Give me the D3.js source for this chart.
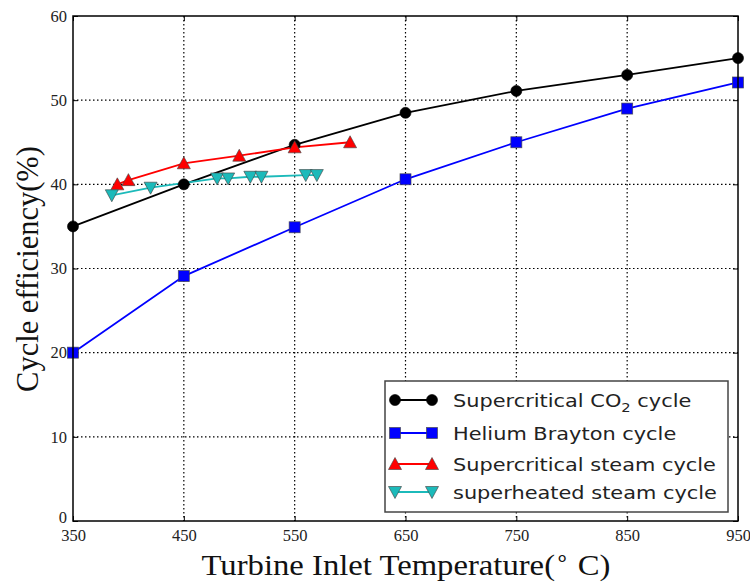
<!DOCTYPE html>
<html>
<head>
<meta charset="utf-8">
<script src="https://cdn.jsdelivr.net/npm/d3@7"></script>
<style>
  body { margin: 0; background: #fff; }
  svg { display: block; }
</style>
</head>
<body>
<div id="chart"></div>
<script>
// data
const xTicks = [350, 450, 550, 650, 750, 850, 950];
const yTicks = [0, 10, 20, 30, 40, 50, 60];

const co2Temp = [350, 450, 550, 650, 750, 850, 950];
const co2Eff = [35.0, 40.0, 44.7, 48.5, 51.1, 53.0, 55.0];

const heliumTemp = [350, 450, 550, 650, 750, 850, 950];
const heliumEff = [20.0, 29.1, 34.9, 40.6, 45.0, 49.0, 52.1];

const scSteamTemp = [390, 400, 450, 500, 550, 600];
const scSteamEff = [40.0, 40.5, 42.5, 43.4, 44.4, 45.0];

const shSteamTemp = [385, 420, 480, 490, 510, 520, 560, 570];
const shSteamEff = [38.7, 39.6, 40.7, 40.7, 40.9, 40.9, 41.1, 41.1];

const seriesNames = ['Supercritical CO2 cycle', 'Helium Brayton cycle', 'Supercritical steam cycle', 'superheated steam cycle'];

const W = 750, H = 583;
const margin = { top: 16, right: 12, bottom: 62, left: 73 };
const width = W - margin.left - margin.right;
const height = H - margin.top - margin.bottom;
const stretch = 1.13; // the source picture is a bit wider than tall

const svg = d3.select('#chart').append('svg')
    .attr('width', W)
    .attr('height', H);

const g = svg.append('g')
    .attr('transform', `translate(${margin.left},${margin.top})`);

const x = d3.scaleLinear().domain([350, 950]).range([0, width]);
const y = d3.scaleLinear().domain([0, 60]).range([height, 0]);

// dotted grid
g.append('g').selectAll('line')
    .data(xTicks.slice(1, -1))
    .enter().append('line')
    .attr('x1', d => x(d)).attr('x2', d => x(d))
    .attr('y1', 0).attr('y2', height)
    .attr('stroke', '#000').attr('stroke-width', 1.2)
    .attr('stroke-dasharray', '1.5,2.5');

g.append('g').selectAll('line')
    .data(yTicks.slice(1, -1))
    .enter().append('line')
    .attr('x1', 0).attr('x2', width)
    .attr('y1', d => y(d)).attr('y2', d => y(d))
    .attr('stroke', '#000').attr('stroke-width', 1.2)
    .attr('stroke-dasharray', '1.5,2.5');

// axes with inward ticks
const serif = 'Liberation Serif, Times New Roman, serif';

const xAxis = g.append('g')
    .attr('transform', `translate(0,${height})`)
    .call(d3.axisBottom(x).tickValues(xTicks).tickSize(-5).tickPadding(8));
const yAxis = g.append('g')
    .call(d3.axisLeft(y).tickValues(yTicks).tickSize(-5).tickPadding(6));
g.append('g')
    .call(d3.axisTop(x).tickValues(xTicks).tickSize(-5).tickFormat(''));
g.append('g')
    .attr('transform', `translate(${width},0)`)
    .call(d3.axisRight(y).tickValues(yTicks).tickSize(-5).tickFormat(''));

g.selectAll('.domain').remove();
g.selectAll('.tick line').attr('stroke', '#000');
[xAxis, yAxis].forEach(a => a.selectAll('text')
    .style('font-family', serif)
    .style('font-size', '16.5px')
    .attr('fill', '#222'));
// the "0" label sits a touch higher so it clears "350"
yAxis.selectAll('.tick text').filter(d => d === 0).attr('dy', '0.1em');

// series
const series = [
    { name: seriesNames[0], xs: co2Temp, ys: co2Eff, color: '#000000', marker: 'circle' },
    { name: seriesNames[1], xs: heliumTemp, ys: heliumEff, color: '#0000ff', marker: 'square' },
    { name: seriesNames[2], xs: scSteamTemp, ys: scSteamEff, color: '#ff0000', marker: 'up' },
    { name: seriesNames[3], xs: shSteamTemp, ys: shSteamEff, color: '#1cbaba', marker: 'down' }
];

const line = d3.line().x(d => x(d[0])).y(d => y(d[1]));

function drawMarker(sel, type, color, size) {
    const r = size / 2;
    let m;
    if (type === 'circle') {
        m = sel.append('circle').attr('r', r);
    } else if (type === 'square') {
        m = sel.append('rect').attr('x', -r).attr('y', -r).attr('width', size).attr('height', size);
    } else if (type === 'up') {
        m = sel.append('path').attr('d', `M0,${-r - 1}L${r + 1},${r}L${-r - 1},${r}Z`);
    } else {
        m = sel.append('path').attr('d', `M0,${r + 1}L${r + 1},${-r}L${-r - 1},${-r}Z`);
    }
    m.attr('fill', color)
        .attr('stroke', type === 'circle' ? '#000' : '#444')
        .attr('stroke-opacity', 0.8)
        .attr('stroke-width', 0.8);
}

const plot = g.append('g');
series.forEach(s => {
    const pts = s.xs.map((v, i) => [v, s.ys[i]]);
    plot.append('path')
        .datum(pts)
        .attr('fill', 'none')
        .attr('stroke', s.color)
        .attr('stroke-width', 1.8)
        .attr('d', line);
});
series.forEach(s => {
    const pts = s.xs.map((v, i) => [v, s.ys[i]]);
    plot.selectAll(null)
        .data(pts)
        .enter().append('g')
        .attr('transform', d => `translate(${x(d[0])},${y(d[1])})`)
        .each(function () { drawMarker(d3.select(this), s.marker, s.color, 11); });
});

// frame
g.append('rect')
    .attr('width', width).attr('height', height)
    .attr('fill', 'none').attr('stroke', '#000').attr('stroke-width', 1.5);

// legend
const legend = svg.append('g').attr('transform', 'translate(385,381)');
legend.append('rect')
    .attr('width', 343).attr('height', 131)
    .attr('fill', '#fff').attr('stroke', '#444').attr('stroke-width', 1.5);

const rowY = [19, 52, 83, 111];
series.forEach((s, i) => {
    const row = legend.append('g').attr('transform', `translate(0,${rowY[i]})`);
    row.append('line')
        .attr('x1', 10).attr('x2', 47)
        .attr('stroke', s.color).attr('stroke-width', 1.8);
    [10, 47].forEach(px => {
        const mk = row.append('g').attr('transform', `translate(${px},0)`);
        drawMarker(mk, s.marker, s.color, 11);
    });
    const t = row.append('text')
        .attr('transform', `translate(68,6.5) scale(${stretch},1)`)
        .style('font-family', 'DejaVu Sans, sans-serif')
        .style('font-size', '18.5px')
        .attr('fill', '#222');
    if (i === 0) {
        t.append('tspan').text('Supercritical CO');
        t.append('tspan').attr('dy', 5).style('font-size', '13px').text('2');
        t.append('tspan').attr('dy', -5).text(' cycle');
    } else {
        t.text(s.name);
    }
});

// axis titles
const xt = svg.append('text')
    .attr('transform', 'translate(406,575) scale(1.09,1)')
    .attr('text-anchor', 'middle')
    .style('font-family', serif)
    .style('font-size', '30px')
    .attr('fill', '#111');
xt.append('tspan').text('Turbine Inlet Temperature(');
xt.append('tspan').attr('dy', -11).style('font-size', '21px').text('\u2218');
xt.append('tspan').attr('dy', 11).text(' C)');

svg.append('text')
    .attr('transform', 'translate(38,269) rotate(-90)')
    .attr('text-anchor', 'middle')
    .style('font-family', serif)
    .style('font-size', '30.5px')
    .attr('fill', '#111')
    .text('Cycle efficiency(%)');
</script>
</body>
</html>
